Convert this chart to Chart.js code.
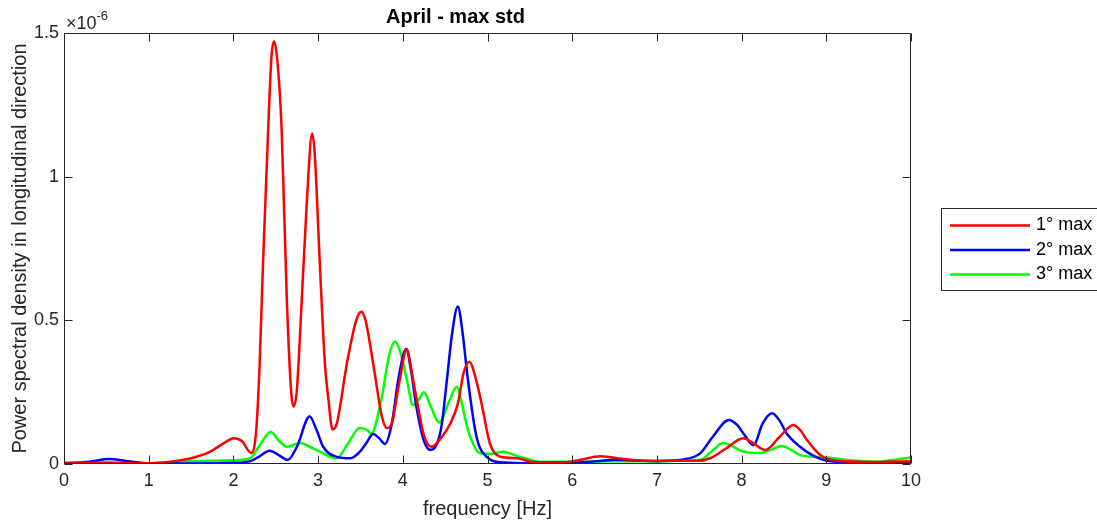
<!DOCTYPE html>
<html>
<head>
<meta charset="utf-8">
<title>April - max std</title>
<script src="https://cdn.jsdelivr.net/npm/chart.js@4/dist/chart.umd.min.js"></script>
<style>
  html, body { margin: 0; padding: 0; background: #fff; }
</style>
</head>
<body>
<canvas id="myChart" width="1097" height="521"></canvas>
<script>
// values, PSD in units of 1e-6
const freqRed = [0, 0.5, 1.0, 1.3, 1.5, 1.72, 1.9, 2.0, 2.1, 2.21, 2.27, 2.31, 2.35, 2.41, 2.45, 2.48, 2.52, 2.57, 2.63, 2.68, 2.71, 2.75, 2.79, 2.87, 2.93, 2.96, 3.02, 3.08, 3.12, 3.17, 3.22, 3.34, 3.45, 3.51, 3.56, 3.65, 3.75, 3.81, 3.87, 3.95, 4.05, 4.1, 4.16, 4.25, 4.34, 4.45, 4.56, 4.65, 4.72, 4.79, 4.85, 4.93, 5.03, 5.15, 5.35, 5.55, 5.9, 6.1, 6.33, 6.5, 6.72, 7.0, 7.47, 7.63, 7.82, 8.02, 8.15, 8.28, 8.45, 8.61, 8.7, 8.77, 8.93, 9.1, 9.5, 10.0];
const psdRed = [0.004, 0.004, 0.003, 0.01, 0.02, 0.042, 0.075, 0.09, 0.08, 0.038, 0.12, 0.35, 0.70, 1.16, 1.42, 1.47, 1.40, 1.16, 0.58, 0.26, 0.20, 0.26, 0.47, 0.93, 1.15, 1.08, 0.70, 0.35, 0.23, 0.12, 0.14, 0.35, 0.50, 0.53, 0.50, 0.35, 0.17, 0.125, 0.14, 0.27, 0.40, 0.33, 0.23, 0.10, 0.06, 0.09, 0.14, 0.21, 0.32, 0.356, 0.31, 0.21, 0.07, 0.025, 0.02, 0.006, 0.006, 0.015, 0.027, 0.022, 0.014, 0.011, 0.011, 0.02, 0.055, 0.09, 0.07, 0.049, 0.095, 0.136, 0.115, 0.084, 0.031, 0.012, 0.007, 0.01];

const freqBlue = [0, 0.3, 0.54, 0.75, 1.0, 1.5, 2.0, 2.2, 2.3, 2.43, 2.54, 2.64, 2.75, 2.9, 2.98, 3.06, 3.22, 3.38, 3.5, 3.57, 3.65, 3.72, 3.79, 3.87, 3.95, 4.04, 4.1, 4.16, 4.25, 4.33, 4.45, 4.52, 4.58, 4.65, 4.7, 4.77, 4.87, 4.99, 5.2, 5.5, 6.0, 6.3, 6.5, 7.0, 7.3, 7.51, 7.66, 7.85, 7.95, 8.02, 8.14, 8.25, 8.36, 8.45, 8.53, 8.69, 8.85, 9.0, 9.5, 10.0];
const psdBlue = [0.002, 0.008, 0.017, 0.01, 0.002, 0.002, 0.004, 0.01, 0.025, 0.046, 0.03, 0.014, 0.06, 0.165, 0.12, 0.06, 0.025, 0.02, 0.045, 0.073, 0.104, 0.09, 0.07, 0.14, 0.30, 0.40, 0.32, 0.2, 0.08, 0.049, 0.12, 0.29, 0.45, 0.548, 0.47, 0.29, 0.095, 0.025, 0.005, 0.003, 0.004, 0.01, 0.015, 0.01, 0.015, 0.037, 0.095, 0.153, 0.135, 0.107, 0.066, 0.142, 0.177, 0.15, 0.107, 0.06, 0.028, 0.012, 0.003, 0.004];

const freqGreen = [0, 0.5, 1.0, 1.5, 2.0, 2.2, 2.3, 2.44, 2.54, 2.63, 2.79, 2.9, 3.02, 3.22, 3.35, 3.49, 3.57, 3.63, 3.75, 3.84, 3.91, 3.97, 4.05, 4.12, 4.18, 4.25, 4.33, 4.43, 4.55, 4.64, 4.69, 4.77, 4.91, 5.05, 5.18, 5.38, 5.62, 6.0, 6.5, 7.0, 7.51, 7.65, 7.78, 7.9, 8.02, 8.22, 8.35, 8.47, 8.58, 8.69, 9.0, 9.3, 9.6, 9.8, 10.0];
const psdGreen = [0.003, 0.004, 0.003, 0.01, 0.013, 0.02, 0.06, 0.111, 0.08, 0.06, 0.073, 0.06, 0.043, 0.02, 0.07, 0.125, 0.12, 0.107, 0.23, 0.38, 0.426, 0.39, 0.29, 0.205, 0.22, 0.25, 0.2, 0.144, 0.22, 0.27, 0.22, 0.118, 0.038, 0.035, 0.043, 0.025, 0.008, 0.008, 0.01, 0.01, 0.014, 0.045, 0.073, 0.06, 0.043, 0.038, 0.05, 0.063, 0.05, 0.031, 0.023, 0.012, 0.008, 0.015, 0.023];

const seriesLabels = ['1° max', '2° max', '3° max'];
const seriesColors = ['#ff0000', '#0000ff', '#00ff00'];
const xTickLabels = ['0', '1', '2', '3', '4', '5', '6', '7', '8', '9', '10'];
const yTickLabels = ['0', '0.5', '1', '1.5'];

const axisColor = '#262626';
Chart.defaults.font.family = '"Liberation Sans", Arial, Helvetica, sans-serif';

function toPoints(xs, ys) {
  return xs.map(function (f, i) { return { x: f, y: ys[i] }; });
}

const data = {
  datasets: [
    { label: seriesLabels[0], data: toPoints(freqRed, psdRed) },
    { label: seriesLabels[1], data: toPoints(freqBlue, psdBlue) },
    { label: seriesLabels[2], data: toPoints(freqGreen, psdGreen) }
  ].map(function (ds, i) {
    ds.borderColor = seriesColors[i];
    ds.backgroundColor = seriesColors[i];
    ds.borderWidth = 2.5;
    ds.pointRadius = 0;
    ds.pointHoverRadius = 0;
    ds.cubicInterpolationMode = 'monotone';
    ds.fill = false;
    return ds;
  })
};

/**
 * box round the plot, inward ticks on all four sides, exponent label
 */
const matlabAxes = {
  id: 'matlabAxes',
  afterDatasetsDraw(chart) {
    const ctx = chart.ctx, a = chart.chartArea;
    const x = chart.scales.x, y = chart.scales.y;
    const tickLen = 8;
    const L = Math.round(a.left) + 0.5, R = Math.round(a.right) - 0.5;
    const T = Math.round(a.top) + 0.5, B = Math.round(a.bottom) - 0.5;
    ctx.save();
    ctx.strokeStyle = axisColor;
    ctx.lineWidth = 1;
    ctx.beginPath();
    ctx.rect(L, T, R - L, B - T);
    x.ticks.forEach(function (t) {
      const px = Math.round(x.getPixelForValue(t.value)) + 0.5;
      ctx.moveTo(px, B); ctx.lineTo(px, B - tickLen);
      ctx.moveTo(px, T); ctx.lineTo(px, T + tickLen);
    });
    y.ticks.forEach(function (t) {
      const py = Math.round(y.getPixelForValue(t.value)) + 0.5;
      ctx.moveTo(L, py); ctx.lineTo(L + tickLen, py);
      ctx.moveTo(R, py); ctx.lineTo(R - tickLen, py);
    });
    ctx.stroke();

    // x10^-6 above the y axis
    ctx.fillStyle = axisColor;
    ctx.textBaseline = 'alphabetic';
    ctx.textAlign = 'left';
    ctx.font = '18px ' + Chart.defaults.font.family;
    ctx.fillText('\u00d710', a.left + 2, a.top - 4);
    const w = ctx.measureText('\u00d710').width;
    ctx.font = '13px ' + Chart.defaults.font.family;
    ctx.fillText('-6', a.left + 2 + w, a.top - 13);
    ctx.restore();
  }
};

/**
 * legend box outside the axes on the right
 */
const sideLegend = {
  id: 'sideLegend',
  afterDraw(chart) {
    const ctx = chart.ctx;
    const left = 941.5, top = 208.5, rowH = 24.5;
    ctx.save();
    ctx.fillStyle = '#fff';
    ctx.strokeStyle = axisColor;
    ctx.lineWidth = 1;
    ctx.fillRect(left, top, 200, 82);
    ctx.strokeRect(left, top, 200, 82);
    ctx.font = '18px ' + Chart.defaults.font.family;
    ctx.textBaseline = 'middle';
    ctx.textAlign = 'left';
    chart.data.datasets.forEach(function (ds, i) {
      const yy = top + 17 + i * rowH;
      ctx.strokeStyle = ds.borderColor;
      ctx.lineWidth = 2.5;
      ctx.beginPath();
      ctx.moveTo(950, yy);
      ctx.lineTo(1030, yy);
      ctx.stroke();
      ctx.fillStyle = '#000';
      ctx.fillText(ds.label, 1036, yy);
    });
    ctx.restore();
  }
};

const config = {
  type: 'line',
  data: data,
  options: {
    responsive: false,
    animation: false,
    layout: {
      padding: { left: 0, right: 186, top: 0, bottom: 0 }
    },
    scales: {
      x: {
        type: 'linear',
        min: 0,
        max: 10,
        grid: { display: false, drawTicks: false },
        border: { display: false },
        ticks: {
          stepSize: 1,
          padding: 6,
          color: axisColor,
          font: { size: 18 },
          maxRotation: 0,
          callback: function (v, i) { return xTickLabels[i]; }
        },
        title: {
          display: true,
          text: 'frequency [Hz]',
          color: axisColor,
          font: { size: 20 },
          padding: { top: 0, bottom: 0 }
        },
        afterFit: function (scale) { scale.height = 57; }
      },
      y: {
        min: 0,
        max: 1.5,
        grid: { display: false, drawTicks: false },
        border: { display: false },
        ticks: {
          stepSize: 0.5,
          padding: 5,
          color: axisColor,
          font: { size: 18 },
          callback: function (v, i) { return yTickLabels[i]; }
        },
        title: {
          display: true,
          text: 'Power spectral density in longitudinal direction',
          color: axisColor,
          font: { size: 20 },
          padding: { top: 8, bottom: 0 }
        },
        afterFit: function (scale) { scale.width = 64; }
      }
    },
    plugins: {
      legend: { display: false },
      tooltip: { enabled: false },
      title: {
        display: true,
        text: 'April - max std',
        color: '#000',
        font: { size: 20, weight: 'bold' },
        padding: { top: 5, bottom: 4 }
      }
    }
  },
  plugins: [matlabAxes, sideLegend]
};

const myChart = new Chart(document.getElementById('myChart'), config);
</script>
</body>
</html>
